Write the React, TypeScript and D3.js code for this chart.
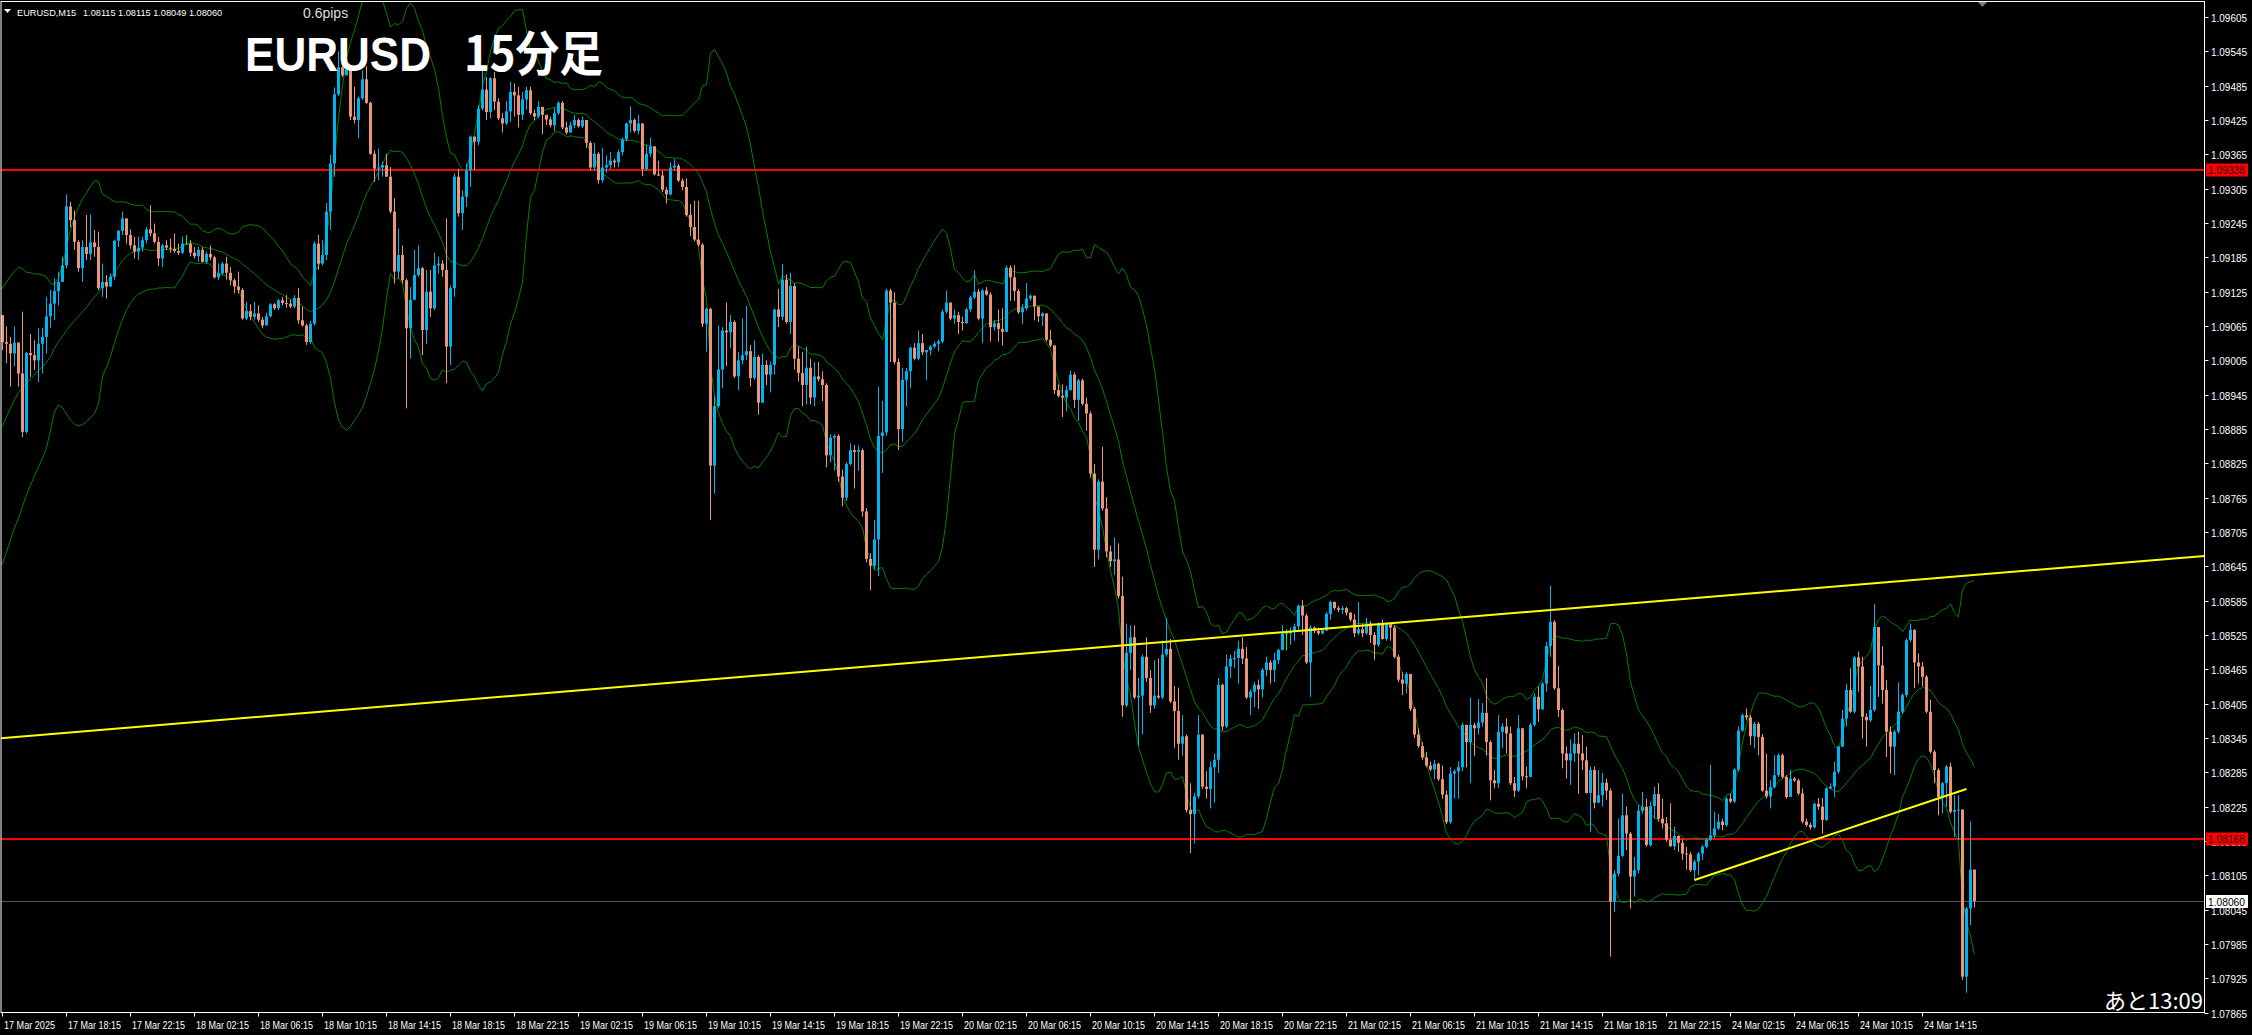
import React from 'react';
import * as d3 from 'd3';

const W = 2252;
const H = 1035;

const firstOpen = 1.09084;

const closes = [
1.09037,1.09034,1.09017,1.09036,1.08982,1.08880,1.09018,1.09014,1.09005,1.09034,
1.09046,1.09082,1.09104,1.09126,1.09142,1.09171,1.09274,1.09250,1.09212,1.09166,
1.09203,1.09191,1.09211,1.09203,1.09131,1.09142,1.09134,1.09151,1.09214,1.09231,
1.09253,1.09224,1.09206,1.09195,1.09202,1.09215,1.09234,1.09227,1.09212,1.09183,
1.09206,1.09202,1.09200,1.09196,1.09193,1.09209,1.09209,1.09193,1.09187,1.09198,
1.09177,1.09191,1.09185,1.09150,1.09157,1.09174,1.09158,1.09145,1.09134,1.09128,
1.09078,1.09091,1.09081,1.09087,1.09076,1.09066,1.09082,1.09103,1.09096,1.09110,
1.09105,1.09104,1.09099,1.09114,1.09075,1.09066,1.09037,1.09069,1.09209,1.09174,
1.09189,1.09265,1.09349,1.09470,1.09517,1.09503,1.09513,1.09431,1.09425,1.09463,
1.09496,1.09455,1.09366,1.09340,1.09342,1.09346,1.09326,1.09265,1.09160,1.09189,
1.09145,1.09061,1.09111,1.09154,1.09166,1.09058,1.09125,1.09096,1.09171,1.09174,
1.09163,1.09029,1.09131,1.09326,1.09262,1.09291,1.09337,1.09396,1.09387,1.09445,
1.09478,1.09439,1.09498,1.09457,1.09428,1.09419,1.09440,1.09474,1.09468,1.09434,
1.09461,1.09477,1.09437,1.09431,1.09448,1.09434,1.09426,1.09416,1.09437,1.09455,
1.09412,1.09403,1.09416,1.09425,1.09414,1.09425,1.09385,1.09342,1.09366,1.09320,
1.09342,1.09346,1.09354,1.09351,1.09369,1.09391,1.09419,1.09425,1.09406,1.09419,
1.09339,1.09366,1.09379,1.09330,1.09328,1.09303,1.09295,1.09342,1.09345,1.09319,
1.09308,1.09259,1.09238,1.09216,1.09207,1.09069,1.09095,1.08821,1.08925,1.08989,
1.09057,1.09054,1.09072,1.08977,1.09005,1.09014,1.09021,1.08974,1.09011,1.08931,
1.08997,1.08980,1.08997,1.09094,1.09081,1.09146,1.09072,1.09135,1.09008,1.08983,
1.08962,1.08992,1.08940,1.08977,1.08972,1.08962,1.08839,1.08870,1.08873,1.08802,
1.08765,1.08824,1.08848,1.08845,1.08848,1.08741,1.08658,1.08646,1.08692,1.08873,
1.08879,1.09127,1.09106,1.09002,1.08885,1.08971,1.08986,1.09027,1.09008,1.09035,
1.09019,1.09023,1.09029,1.09034,1.09038,1.09090,1.09106,1.09078,1.09084,1.09072,
1.09070,1.09094,1.09115,1.09125,1.09078,1.09127,1.09120,1.09063,1.09070,1.09060,
1.09055,1.09167,1.09150,1.09126,1.09089,1.09096,1.09113,1.09118,1.09099,1.09082,
1.09087,1.09041,1.09031,1.08953,1.08943,1.08940,1.08953,1.08980,1.08936,1.08970,
1.08929,1.08912,1.08807,1.08674,1.08793,1.08746,1.08671,1.08654,1.08657,1.08593,
1.08402,1.08494,1.08521,1.08416,1.08419,1.08487,1.08450,1.08402,1.08419,1.08416,
1.08491,1.08501,1.08409,1.08392,1.08335,1.08348,1.08219,1.08212,1.08243,1.08351,
1.08260,1.08256,1.08294,1.08307,1.08438,1.08365,1.08470,1.08484,1.08485,1.08501,
1.08484,1.08416,1.08426,1.08438,1.08430,1.08464,1.08477,1.08464,1.08481,1.08499,
1.08528,1.08528,1.08532,1.08540,1.08576,1.08559,1.08477,1.08538,1.08532,1.08528,
1.08533,1.08562,1.08583,1.08572,1.08569,1.08572,1.08564,1.08552,1.08528,1.08535,
1.08528,1.08545,1.08525,1.08508,1.08545,1.08518,1.08544,1.08538,1.08487,1.08447,
1.08440,1.08457,1.08396,1.08351,1.08331,1.08311,1.08297,1.08290,1.08300,1.08273,
1.08246,1.08198,1.08283,1.08287,1.08294,1.08368,1.08338,1.08368,1.08362,1.08372,
1.08389,1.08338,1.08271,1.08266,1.08356,1.08365,1.08353,1.08266,1.08253,1.08362,
1.08278,1.08277,1.08368,1.08417,1.08395,1.08440,1.08506,1.08548,1.08432,1.08394,
1.08318,1.08306,1.08318,1.08335,1.08318,1.08306,1.08249,1.08289,1.08232,1.08245,
1.08267,1.08253,1.08059,1.08108,1.08139,1.08210,1.08178,1.08103,1.08114,1.08218,
1.08225,1.08158,1.08226,1.08247,1.08204,1.08196,1.08167,1.08156,1.08174,1.08162,
1.08143,1.08142,1.08114,1.08129,1.08143,1.08155,1.08167,1.08175,1.08187,1.08199,
1.08193,1.08239,1.08234,1.08290,1.08358,1.08385,1.08381,1.08348,1.08370,1.08347,
1.08253,1.08243,1.08259,1.08280,1.08315,1.08277,1.08242,1.08274,1.08271,1.08248,
1.08199,1.08193,1.08189,1.08230,1.08225,1.08202,1.08257,1.08260,1.08286,1.08330,
1.08379,1.08429,1.08391,1.08486,1.08470,1.08382,1.08376,1.08394,1.08539,1.08472,
1.08429,1.08356,1.08330,1.08356,1.08391,1.08420,1.08516,1.08534,1.08477,1.08470,
1.08452,1.08391,1.08321,1.08289,1.08242,1.08266,1.08295,1.08216,1.08219,1.08220,
1.07928,1.08047,1.08115,1.08060
];

const highs = [
1.09084,1.09064,1.09046,1.09064,1.09036,1.09090,1.09020,1.09051,1.09040,1.09061,
1.09062,1.09116,1.09128,1.09148,1.09160,1.09186,1.09295,1.09282,1.09267,1.09215,
1.09215,1.09259,1.09260,1.09233,1.09230,1.09174,1.09154,1.09157,1.09216,1.09233,
1.09265,1.09253,1.09234,1.09221,1.09221,1.09221,1.09238,1.09276,1.09244,1.09221,
1.09209,1.09215,1.09218,1.09227,1.09209,1.09221,1.09224,1.09215,1.09203,1.09203,
1.09203,1.09195,1.09206,1.09188,1.09174,1.09177,1.09186,1.09168,1.09148,1.09160,
1.09131,1.09108,1.09103,1.09107,1.09101,1.09081,1.09088,1.09105,1.09105,1.09112,
1.09116,1.09119,1.09111,1.09119,1.09131,1.09099,1.09069,1.09074,1.09213,1.09224,
1.09215,1.09280,1.09364,1.09482,1.09545,1.09535,1.09524,1.09518,1.09483,1.09466,
1.09512,1.09519,1.09457,1.09372,1.09375,1.09352,1.09366,1.09343,1.09288,1.09235,
1.09206,1.09148,1.09133,1.09198,1.09206,1.09168,1.09163,1.09163,1.09193,1.09186,
1.09180,1.09253,1.09136,1.09332,1.09340,1.09302,1.09349,1.09398,1.09396,1.09451,
1.09512,1.09500,1.09500,1.09509,1.09463,1.09437,1.09458,1.09492,1.09489,1.09483,
1.09474,1.09483,1.09483,1.09443,1.09458,1.09446,1.09434,1.09431,1.09446,1.09458,
1.09458,1.09422,1.09422,1.09434,1.09428,1.09431,1.09425,1.09388,1.09385,1.09369,
1.09376,1.09363,1.09369,1.09357,1.09373,1.09394,1.09420,1.09449,1.09428,1.09434,
1.09419,1.09382,1.09394,1.09379,1.09354,1.09336,1.09308,1.09351,1.09357,1.09348,
1.09323,1.09323,1.09278,1.09284,1.09284,1.09210,1.09097,1.09097,1.08943,1.09066,
1.09063,1.09106,1.09084,1.09075,1.09020,1.09078,1.09100,1.09032,1.09040,1.09014,
1.09017,1.09005,1.09003,1.09095,1.09130,1.09173,1.09155,1.09158,1.09140,1.09029,
1.09020,1.09029,1.09008,1.09002,1.09002,1.08986,1.08965,1.08876,1.08876,1.08876,
1.08814,1.08827,1.08860,1.08857,1.08856,1.08851,1.08747,1.08668,1.08726,1.08959,
1.08934,1.09130,1.09130,1.09124,1.09008,1.08992,1.08992,1.09029,1.09035,1.09057,
1.09051,1.09023,1.09032,1.09038,1.09041,1.09094,1.09127,1.09106,1.09094,1.09090,
1.09081,1.09097,1.09118,1.09162,1.09130,1.09130,1.09133,1.09124,1.09075,1.09094,
1.09096,1.09171,1.09171,1.09171,1.09130,1.09103,1.09140,1.09120,1.09118,1.09096,
1.09089,1.09086,1.09058,1.09031,1.08963,1.08963,1.08960,1.08987,1.08984,1.08973,
1.08973,1.08940,1.08916,1.08824,1.08797,1.08854,1.08766,1.08681,1.08695,1.08685,
1.08627,1.08545,1.08542,1.08542,1.08450,1.08491,1.08521,1.08464,1.08481,1.08484,
1.08515,1.08555,1.08518,1.08436,1.08433,1.08385,1.08351,1.08266,1.08249,1.08385,
1.08351,1.08287,1.08304,1.08318,1.08450,1.08440,1.08491,1.08491,1.08497,1.08515,
1.08521,1.08504,1.08430,1.08443,1.08447,1.08467,1.08487,1.08481,1.08494,1.08501,
1.08542,1.08535,1.08538,1.08545,1.08578,1.08586,1.08562,1.08542,1.08540,1.08538,
1.08537,1.08565,1.08585,1.08583,1.08576,1.08576,1.08574,1.08565,1.08562,1.08583,
1.08545,1.08555,1.08549,1.08530,1.08547,1.08552,1.08547,1.08547,1.08542,1.08491,
1.08460,1.08460,1.08457,1.08399,1.08362,1.08338,1.08321,1.08304,1.08307,1.08302,
1.08297,1.08253,1.08294,1.08290,1.08304,1.08372,1.08368,1.08416,1.08372,1.08413,
1.08406,1.08450,1.08341,1.08289,1.08385,1.08371,1.08379,1.08365,1.08277,1.08385,
1.08362,1.08295,1.08371,1.08423,1.08435,1.08443,1.08513,1.08611,1.08551,1.08471,
1.08397,1.08330,1.08343,1.08353,1.08356,1.08350,1.08330,1.08295,1.08295,1.08289,
1.08284,1.08274,1.08257,1.08114,1.08204,1.08248,1.08225,1.08181,1.08137,1.08228,
1.08251,1.08239,1.08234,1.08260,1.08266,1.08239,1.08207,1.08231,1.08190,1.08175,
1.08168,1.08155,1.08146,1.08132,1.08146,1.08158,1.08171,1.08298,1.08216,1.08213,
1.08204,1.08242,1.08248,1.08292,1.08365,1.08388,1.08397,1.08385,1.08373,1.08373,
1.08352,1.08318,1.08271,1.08315,1.08318,1.08318,1.08280,1.08289,1.08277,1.08274,
1.08257,1.08204,1.08197,1.08232,1.08240,1.08240,1.08259,1.08266,1.08304,1.08331,
1.08394,1.08440,1.08467,1.08488,1.08496,1.08487,1.08388,1.08436,1.08579,1.08539,
1.08505,1.08446,1.08365,1.08359,1.08442,1.08423,1.08519,1.08545,1.08535,1.08493,
1.08478,1.08455,1.08412,1.08324,1.08292,1.08268,1.08298,1.08302,1.08245,1.08245,
1.08214,1.08050,1.08199,1.08115
];

const lows = [
1.09023,1.09000,1.08959,1.08994,1.08959,1.08871,1.08877,1.08976,1.08988,1.08967,
1.08982,1.09017,1.09061,1.09075,1.09101,1.09151,1.09166,1.09238,1.09198,1.09160,
1.09142,1.09180,1.09180,1.09186,1.09128,1.09116,1.09113,1.09134,1.09145,1.09203,
1.09224,1.09209,1.09200,1.09183,1.09180,1.09195,1.09209,1.09222,1.09209,1.09170,
1.09168,1.09198,1.09193,1.09193,1.09189,1.09191,1.09208,1.09187,1.09183,1.09177,
1.09176,1.09174,1.09180,1.09148,1.09145,1.09154,1.09146,1.09136,1.09122,1.09122,
1.09076,1.09075,1.09075,1.09076,1.09072,1.09061,1.09066,1.09080,1.09093,1.09093,
1.09101,1.09097,1.09096,1.09096,1.09069,1.09064,1.09032,1.09034,1.09066,1.09163,
1.09171,1.09180,1.09233,1.09326,1.09467,1.09500,1.09503,1.09425,1.09419,1.09393,
1.09460,1.09453,1.09364,1.09317,1.09320,1.09326,1.09326,1.09262,1.09139,1.09148,
1.09139,1.08921,1.09008,1.09110,1.09151,1.09014,1.09034,1.09081,1.09093,1.09157,
1.09151,1.08965,1.08997,1.09116,1.09256,1.09233,1.09273,1.09308,1.09337,1.09381,
1.09442,1.09425,1.09428,1.09442,1.09425,1.09403,1.09416,1.09422,1.09431,1.09412,
1.09425,1.09443,1.09434,1.09425,1.09428,1.09400,1.09416,1.09412,1.09406,1.09434,
1.09409,1.09400,1.09403,1.09411,1.09412,1.09411,1.09376,1.09336,1.09336,1.09314,
1.09315,1.09333,1.09339,1.09342,1.09342,1.09363,1.09388,1.09403,1.09403,1.09400,
1.09327,1.09336,1.09360,1.09328,1.09327,1.09299,1.09279,1.09293,1.09336,1.09317,
1.09302,1.09256,1.09222,1.09213,1.09204,1.09063,1.09020,1.08726,1.08772,1.08922,
1.08956,1.08995,1.09026,1.08974,1.08953,1.08998,1.09005,1.08959,1.08971,1.08910,
1.08931,1.08962,1.08949,1.08980,1.09063,1.09075,1.09069,1.09051,1.08989,1.08968,
1.08925,1.08928,1.08928,1.08925,1.08968,1.08934,1.08818,1.08827,1.08812,1.08793,
1.08750,1.08759,1.08821,1.08781,1.08812,1.08732,1.08652,1.08603,1.08640,1.08628,
1.08808,1.08873,1.09002,1.08998,1.08848,1.08863,1.08925,1.08956,1.09005,1.09005,
1.09014,1.08971,1.09014,1.09026,1.09021,1.09035,1.09087,1.09075,1.09069,1.09051,
1.09057,1.09069,1.09090,1.09112,1.09075,1.09035,1.09118,1.09038,1.09057,1.09038,
1.09031,1.09054,1.09109,1.09109,1.09086,1.09069,1.09092,1.09109,1.09075,1.09072,
1.09065,1.09038,1.09028,1.08946,1.08940,1.08906,1.08916,1.08952,1.08922,1.08899,
1.08926,1.08882,1.08800,1.08644,1.08657,1.08742,1.08661,1.08644,1.08630,1.08589,
1.08382,1.08399,1.08464,1.08413,1.08331,1.08351,1.08443,1.08389,1.08396,1.08413,
1.08413,1.08487,1.08406,1.08328,1.08307,1.08314,1.08215,1.08144,1.08161,1.08239,
1.08256,1.08239,1.08222,1.08232,1.08284,1.08358,1.08362,1.08450,1.08467,1.08440,
1.08474,1.08413,1.08385,1.08399,1.08396,1.08416,1.08453,1.08440,1.08443,1.08474,
1.08498,1.08498,1.08508,1.08515,1.08532,1.08525,1.08474,1.08417,1.08528,1.08525,
1.08526,1.08532,1.08552,1.08569,1.08565,1.08562,1.08559,1.08549,1.08521,1.08525,
1.08521,1.08525,1.08511,1.08481,1.08504,1.08517,1.08515,1.08515,1.08484,1.08443,
1.08420,1.08423,1.08392,1.08345,1.08328,1.08307,1.08294,1.08287,1.08273,1.08270,
1.08239,1.08195,1.08195,1.08239,1.08239,1.08287,1.08294,1.08266,1.08314,1.08351,
1.08365,1.08314,1.08236,1.08257,1.08257,1.08327,1.08318,1.08263,1.08242,1.08251,
1.08271,1.08257,1.08277,1.08365,1.08373,1.08394,1.08426,1.08487,1.08429,1.08382,
1.08292,1.08274,1.08263,1.08303,1.08248,1.08289,1.08248,1.08181,1.08222,1.08231,
1.08225,1.08237,1.07963,1.08041,1.08103,1.08137,1.08149,1.08047,1.08068,1.08108,
1.08213,1.08155,1.08155,1.08204,1.08199,1.08187,1.08164,1.08155,1.08149,1.08146,
1.08132,1.08115,1.08111,1.08096,1.08105,1.08132,1.08152,1.08165,1.08170,1.08184,
1.08184,1.08190,1.08231,1.08231,1.08286,1.08356,1.08376,1.08333,1.08327,1.08315,
1.08251,1.08239,1.08222,1.08257,1.08277,1.08274,1.08239,1.08242,1.08268,1.08245,
1.08196,1.08190,1.08185,1.08187,1.08219,1.08178,1.08200,1.08255,1.08242,1.08283,
1.08329,1.08365,1.08389,1.08388,1.08426,1.08344,1.08330,1.08373,1.08391,1.08417,
1.08405,1.08312,1.08283,1.08280,1.08353,1.08388,1.08416,1.08513,1.08432,1.08440,
1.08435,1.08388,1.08318,1.08266,1.08210,1.08213,1.08225,1.08213,1.08172,1.08167,
1.07922,1.07900,1.08018,1.08049
];

// Bollinger band values for the first bars
// (their 20-bar window reaches back before the visible data)
const bbUpperHead = [
1.09131,1.09142,1.09152,1.09161,1.09168,1.09165,1.09159,1.09158,1.09156,1.09156,
1.09154,1.09151,1.09140,1.09137,1.09149,1.09172,1.09203,1.09233,1.09255
];
const bbLowerHead = [
1.08649,1.08670,1.08691,1.08712,1.08729,1.08750,1.08770,1.08787,1.08803,1.08819,
1.08834,1.08852,1.08883,1.08915,1.08927,1.08922,1.08911,1.08901,1.08894
];

const timeLabels = [
'17 Mar 2025','17 Mar 18:15','17 Mar 22:15','18 Mar 02:15','18 Mar 06:15','18 Mar 10:15',
'18 Mar 14:15','18 Mar 18:15','18 Mar 22:15','19 Mar 02:15','19 Mar 06:15','19 Mar 10:15',
'19 Mar 14:15','19 Mar 18:15','19 Mar 22:15','20 Mar 02:15','20 Mar 06:15','20 Mar 10:15',
'20 Mar 14:15','20 Mar 18:15','20 Mar 22:15','21 Mar 02:15','21 Mar 06:15','21 Mar 10:15',
'21 Mar 14:15','21 Mar 18:15','21 Mar 22:15','24 Mar 02:15','24 Mar 06:15','24 Mar 10:15',
'24 Mar 14:15'
];
const labelEvery = 16;

const priceTicks = [
1.09605,1.09545,1.09485,1.09425,1.09365,1.09305,1.09245,1.09185,1.09125,1.09065,
1.09005,1.08945,1.08885,1.08825,1.08765,1.08705,1.08645,1.08585,1.08525,1.08465,
1.08405,1.08345,1.08285,1.08225,1.08165,1.08105,1.08045,1.07985,1.07925,1.07865
];

const headerSymbol = 'EURUSD,M15';
const headerOHLC = ['1.08115', '1.08115', '1.08049', '1.08060'];
const spreadText = '0.6pips';
const redLevels = [1.09338, 1.08168];
const currentPrice = 1.0806;
const trendLong = [[0, 1.08345], [493, 1.0863]];
const trendShort = [[423, 1.08097], [491, 1.08256]];
const bbPeriod = 20;
const bbDev = 2;

const PLOT_L = 1;
const PLOT_T = 1.5;
const PLOT_R = 2204.5;
const PLOT_B = 1012.5;

const BULL = '#00B4F0';
const BEAR = '#E9967A';
const DOJI = '#00FF00';
const AXIS_FONT = "'Liberation Sans', Arial, sans-serif";
const JP_FONT = "'Noto Sans CJK JP', 'Noto Sans', sans-serif";

export default function App() {
  const n = closes.length;
  const x = d3.scaleLinear().domain([0, n - 1]).range([2.5, 2.5 + 4 * (n - 1)]);
  const y = d3.scaleLinear().domain([1.07865, 1.09605]).range([1012.7, 17]);

  const opens = closes.map((c, i) => (i === 0 ? firstOpen : closes[i - 1]));

  const mid: [number, number][] = [];
  const up: [number, number][] = [];
  const dn: [number, number][] = [];
  for (let i = 0; i < bbPeriod - 1; i++) {
    const u = bbUpperHead[i], l = bbLowerHead[i];
    up.push([x(i), y(u)]);
    dn.push([x(i), y(l)]);
    mid.push([x(i), y((u + l) / 2)]);
  }
  for (let i = bbPeriod - 1; i < n; i++) {
    const w = closes.slice(i - bbPeriod + 1, i + 1);
    const m = d3.mean(w) as number;
    const sd = Math.sqrt(d3.mean(w.map((v) => (v - m) * (v - m))) as number);
    mid.push([x(i), y(m)]);
    up.push([x(i), y(m + bbDev * sd)]);
    dn.push([x(i), y(m - bbDev * sd)]);
  }
  [mid, up, dn].forEach((arr) => arr.unshift([PLOT_L, arr[0][1]]));
  const line = d3.line();

  const rayPts = (t: number[][]) => {
    const [[i1, p1], [i2, p2]] = t;
    const x1 = x(i1), y1 = y(p1), x2 = x(i2), y2 = y(p2);
    const k = (y2 - y1) / (x2 - x1);
    return { x1: PLOT_L, y1: y1 + (PLOT_L - x1) * k, x2: PLOT_R, y2: y1 + (PLOT_R - x1) * k };
  };
  const tl = rayPts(trendLong);

  return (
    <div>
      <style>{`body{margin:0;background:#000;overflow:hidden}`}</style>
      <svg width={W} height={H} style={{ display: 'block', background: '#000' }}>
        <defs>
          <clipPath id="plot">
            <rect x={PLOT_L} y={PLOT_T} width={PLOT_R - PLOT_L} height={PLOT_B - PLOT_T} />
          </clipPath>
        </defs>
        <rect x={0} y={0} width={W} height={H} fill="#000" />

        <g clipPath="url(#plot)">
          <line x1={PLOT_L} x2={PLOT_R} y1={Math.round(y(currentPrice)) + 0.5} y2={Math.round(y(currentPrice)) + 0.5} stroke="#3E5E5E" strokeWidth={1} />
          {redLevels.map((p, i) => (
            <line key={i} x1={PLOT_L} x2={PLOT_R} y1={Math.round(y(p))} y2={Math.round(y(p))} stroke="#FF0000" strokeWidth={2} />
          ))}
          <path d={line(up) || ''} fill="none" stroke="#008000" strokeWidth={1} />
          <path d={line(mid) || ''} fill="none" stroke="#008000" strokeWidth={1} />
          <path d={line(dn) || ''} fill="none" stroke="#008000" strokeWidth={1} />

          {closes.map((c, i) => {
            const o = opens[i];
            const cx = x(i);
            const yo = y(o), yc = y(c);
            const top = Math.min(yo, yc), bot = Math.max(yo, yc);
            const hi = Math.min(y(highs[i]), top);
            const lo = Math.max(y(lows[i]), bot);
            const doji = Math.abs(c - o) < 0.000005;
            const col = doji ? DOJI : c > o ? BULL : BEAR;
            return (
              <g key={i}>
                <line x1={cx} x2={cx} y1={hi} y2={lo} stroke={col} strokeWidth={1} />
                <rect x={cx - 1.5} y={top} width={3} height={Math.max(1, bot - top)} fill={col} />
              </g>
            );
          })}

          <line x1={tl.x1} y1={tl.y1} x2={tl.x2} y2={tl.y2} stroke="#FFFF00" strokeWidth={2} />
          <line x1={x(trendShort[0][0])} y1={y(trendShort[0][1])} x2={x(trendShort[1][0])} y2={y(trendShort[1][1])} stroke="#FFFF00" strokeWidth={2} />
        </g>

        <rect x={PLOT_L} y={PLOT_T} width={PLOT_R - PLOT_L} height={PLOT_B - PLOT_T} fill="none" stroke="#FFFFFF" strokeWidth={1} />

        {priceTicks.map((p, i) => {
          const yy = Math.round(y(p)) + 0.5;
          return (
            <g key={i}>
              <line x1={PLOT_R} x2={PLOT_R + 4} y1={yy} y2={yy} stroke="#fff" />
              <text x={2211} y={yy + 4} fill="#fff" fontSize={10.5} fontFamily={AXIS_FONT} textLength={36} lengthAdjust="spacingAndGlyphs">
                {p.toFixed(5)}
              </text>
            </g>
          );
        })}
        {redLevels.map((p, i) => {
          const yy = Math.round(y(p));
          return (
            <g key={'r' + i}>
              <rect x={2206} y={yy - 6.5} width={42} height={13} fill="#FF0000" />
              <text x={2208} y={yy + 4} fill="#300000" fontSize={10.5} fontFamily={AXIS_FONT} textLength={37} lengthAdjust="spacingAndGlyphs">
                {p.toFixed(5)}
              </text>
            </g>
          );
        })}
        <g>
          <rect x={2206} y={Math.round(y(currentPrice)) - 6} width={42} height={13} fill="#FFFFFF" />
          <text x={2208} y={Math.round(y(currentPrice)) + 4.5} fill="#000" fontSize={10.5} fontFamily={AXIS_FONT} textLength={37} lengthAdjust="spacingAndGlyphs">
            {currentPrice.toFixed(5)}
          </text>
        </g>

        {timeLabels.map((t, k) => {
          const xx = x(k * labelEvery);
          return (
            <g key={t}>
              <line x1={xx} x2={xx} y1={PLOT_B} y2={PLOT_B + 4} stroke="#fff" />
              <text x={xx + 1.5} y={1029} fill="#fff" fontSize={10.5} fontFamily={AXIS_FONT} textLength={t.length === 11 ? 51 : 53} lengthAdjust="spacingAndGlyphs">
                {t}
              </text>
            </g>
          );
        })}

        {/* header line */}
        <path d="M4,9 L11,9 L7.5,13 Z" fill="#fff" />
        <text x={17} y={15.5} fill="#fff" fontSize={9.2} fontFamily={AXIS_FONT}>
          {headerSymbol}
        </text>
        <text x={83} y={15.5} fill="#fff" fontSize={9.2} fontFamily={AXIS_FONT}>
          {headerOHLC.join(' ')}
        </text>
        <text x={303} y={18} fill="#DDDDDD" fontSize={14} fontFamily={AXIS_FONT}>
          {spreadText}
        </text>
        <text x={245} y={71} fill="#FFFFFF" fontSize={48} fontWeight={700} fontFamily={AXIS_FONT} textLength={186} lengthAdjust="spacingAndGlyphs">
          EURUSD
        </text>
        <text x={464} y={71} fill="#FFFFFF" fontSize={48} fontWeight={700} fontFamily={JP_FONT} textLength={139} lengthAdjust="spacingAndGlyphs">
          15分足
        </text>

        <path d="M1978,2 L1987,2 L1982.5,7 Z" fill="#808080" />

        <text x={2203} y={1009} fill="#FFFFFF" fontSize={22} textAnchor="end" fontFamily={JP_FONT}>
          あと13:09
        </text>
      </svg>
    </div>
  );
}
